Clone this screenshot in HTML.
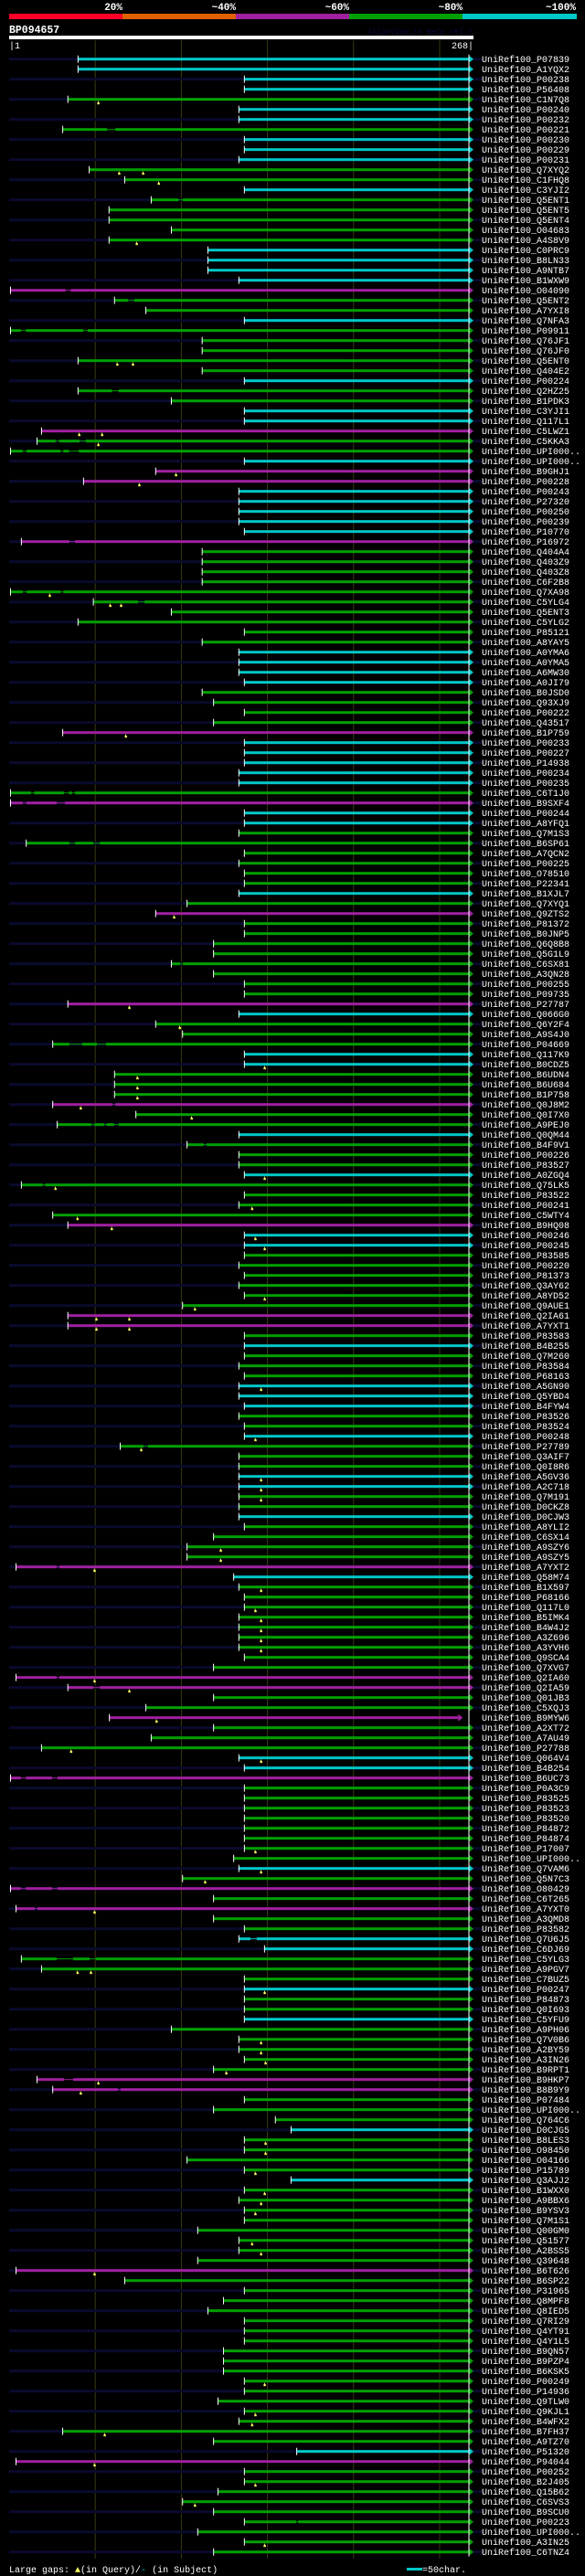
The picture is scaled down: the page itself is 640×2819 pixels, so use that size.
<!DOCTYPE html>
<html><head><meta charset="utf-8"><style>
html,body{margin:0;padding:0;background:#000;}
svg{display:block;}
text{font-family:"Liberation Mono",monospace;}
</style></head><body>
<svg id="chart" width="640" height="2819" xmlns="http://www.w3.org/2000/svg">
<rect x="0" y="0" width="640" height="2819" fill="#000"/>
<g>
<rect x="10" y="15" width="124" height="6" fill="#ff0028"/>
<rect x="134" y="15" width="124" height="6" fill="#e06000"/>
<rect x="258" y="15" width="124" height="6" fill="#a020a0"/>
<rect x="382" y="15" width="124" height="6" fill="#00a000"/>
<rect x="506" y="15" width="125" height="6" fill="#00c8c8"/>
<text x="134" y="11" text-anchor="end" font-size="11" font-weight="bold" fill="#fff">20%</text>
<text x="258" y="11" text-anchor="end" font-size="11" font-weight="bold" fill="#fff">~40%</text>
<text x="382" y="11" text-anchor="end" font-size="11" font-weight="bold" fill="#fff">~60%</text>
<text x="506" y="11" text-anchor="end" font-size="11" font-weight="bold" fill="#fff">~80%</text>
<text x="630" y="11" text-anchor="end" font-size="11" font-weight="bold" fill="#fff">~100%</text>
</g>
<text x="10" y="36" font-size="11.5" font-weight="bold" fill="#fff">BP094657</text>
<text x="402" y="37" font-size="8.3" fill="#0a0a40">AlignView.rn Beta rel.7</text>
<rect x="10" y="39" width="508" height="4" fill="#fff"/>
<text x="10" y="53" font-size="10" fill="#fff">|1</text>
<text x="518" y="53" font-size="10" text-anchor="end" fill="#fff">268|</text>
<g id="grid"></g>
<g id="rows"></g>
<g>
<text x="10" y="2815" font-size="10" fill="#fff">Large gaps: <tspan fill="#ffff60">▲</tspan>(in Query)/<tspan fill="#00c8c8">-</tspan> (in Subject)</text>
<rect x="445" y="2810" width="17" height="3" fill="#00c8c8"/>
<text x="462" y="2815" font-size="10" fill="#fff">=50char.</text>
</g>
</svg>
<script>
const names = ["P07839","A1YQX2","P00238","P56408","C1N7Q8","P00240","P00232","P00221","P00230","P00229","P00231","Q7XYQ2","C1FHQ8","C3YJI2","Q5ENT1","Q5ENT5","Q5ENT4","O04683","A4S8V9","C0PRC9","B8LN33","A9NTB7","B1WXW9","O04090","Q5ENT2","A7YXI8","Q7NFA3","P09911","Q76JF1","Q76JF0","Q5ENT0",
"Q404E2","P00224","Q2HZ25","B1PDK3","C3YJI1","Q117L1","C5LWZ1","C5KKA3","UPI000..","UPI000..","B9GHJ1","P00228","P00243","P27320","P00250","P00239","P10770","P16972","Q404A4","Q403Z9","Q403Z8","C6F2B8","Q7XA98","C5YLG4","Q5ENT3","C5YLG2","P85121","A8YAY5","A0YMA6","A0YMA5","A6MW30",
"A0JI79","B0JSD0","Q93XJ9","P00222","Q43517","B1P759","P00233","P00227","P14938","P00234","P00235","C6T1J0","B9SXF4","P00244","A8YFQ1","Q7M1S3","B6SP61","A7QCN2","P00225","O78510","P22341","B1XJL7","Q7XYQ1","Q9ZTS2","P81372","B0JNP5","Q6Q8B8","Q5G1L9","C6SX81","A3QN28","P00255",
"P09735","P27787","Q066G0","Q6Y2F4","A9S4J0","P04669","Q117K9","B0CDZ5","B6UDN4","B6U684","B1P758","Q0J8M2","Q0I7X0","A9PEJ0","Q0QM44","B4F9V1","P00226","P83527","A0ZGQ4","Q75LK5","P83522","P00241","C5WTY4","B9HQ08","P00246","P00245","P83585","P00220","P81373","Q3AY62","A8YD52",
"Q9AUE1","Q2IA61","A7YXT1","P83583","B4B255","Q7M260","P83584","P68163","A5GN90","Q5YBD4","B4FYW4","P83526","P83524","P00248","P27789","Q3AIF7","Q0I8R6","A5GV36","A2C718","Q7M191","D0CKZ8","D0CJW3","A8YLI2","C6SX14","A9SZY6","A9SZY5","A7YXT2","Q58M74","B1X597","P68166","Q117L0","B5IMK4",
"B4W4J2","A3Z696","A3YVH6","Q9SCA4","Q7XVG7","Q2IA60","Q2IA59","Q01JB3","C5XQJ3","B9MYW6","A2XT72","A7AU49","P27788","Q064V4","B4B254","B6UC73","P0A3C9","P83525","P83523","P83520","P84872","P84874","P17007","UPI000..","Q7VAM6","Q5N7C3","O80429","C6T265","A7YXT0","A3QMD8","P83582",
"Q7U6J5","C6DJ69","C5YLG3","A9PGV7","C7BUZ5","P00247","P84873","Q0I693","C5YFU9","A9PH06","Q7V0B6","A2BY59","A3IN26","B9RPT1","B9HKP7","B8B9Y9","P07484","UPI000..","Q764C6","D0CJG5","B8LES3","O98450","O04166","P15789","Q3AJJ2","B1WXX0","A9BBX6","B9YSV3","Q7M1S1","Q00GM0","Q51577",
"A2BSS5","Q39648","B6T626","B6SP22","P31965","Q8MPF8","Q8IED5","Q7RI29","Q4YT91","Q4Y1L5","B9QN57","B9PZP4","B6KSK5","P00249","P14936","Q9TLW0","Q9KJL1","B4WFX2","B7FH37","A9TZ70","P51320","P94044","P00252","B2J405","Q15B62","C6SVS3","B9SCU0","P00223","UPI000..","A3IN25","C6TNZ4"];
const starts = [40,40,136.6,136.6,34.1,133.4,133.4,31.1,136.6,136.6,133.4,46.5,67.1,136.6,82.5,58,58,94.2,58,115.4,115.4,115.4,133.4,0.8,61.2,79.4,136.6,0.8,112.1,112.1,40,
112.1,136.6,40,94.2,136.6,136.6,18.8,16.2,0.8,136.6,85.1,43.2,133.4,133.4,133.4,133.4,136.6,7.1,112.1,112.1,112.1,112.1,0.8,48.9,94.2,40,136.6,112.1,133.4,133.4,133.4,
136.6,112.1,118.7,136.6,118.7,31.1,136.6,136.6,136.6,133.4,133.4,0.8,0.8,136.6,136.6,133.4,9.9,136.6,133.4,136.6,136.6,133.4,103.3,85.1,136.6,136.6,118.7,118.7,94.2,118.7,136.6,
136.6,34.1,133.4,85.1,100.7,25.3,136.6,136.6,61.2,61.2,61.2,25.3,73.6,27.9,133.4,103.3,133.4,133.4,136.6,7.1,136.6,133.4,25.3,34.1,136.6,136.6,136.6,133.4,136.6,133.4,136.6,
100.7,34.1,34.1,136.6,136.6,136.6,133.4,136.6,133.4,133.4,136.6,133.4,136.6,136.6,64.5,133.4,133.4,133.4,133.4,133.4,133.4,133.4,136.6,118.7,103.3,103.3,4,130.4,133.4,136.6,136.6,133.4,
133.4,133.4,133.4,136.6,118.7,4,34.1,118.7,79.4,58.2,118.7,82.5,18.8,133.4,136.6,0.8,136.6,136.6,136.6,136.6,136.6,136.6,136.6,130.4,133.4,100.7,0.8,118.7,4,118.7,136.6,
133.4,148.3,7.1,18.8,136.6,136.6,136.6,136.6,136.6,94.2,133.4,133.4,136.6,118.7,16.2,25.3,136.6,118.7,154.6,163.7,136.6,136.6,103.3,136.6,163.7,136.6,133.4,136.6,136.6,109.5,133.4,
133.4,109.5,4,67.1,136.6,124.5,115.4,136.6,136.6,136.6,124.5,124.5,124.5,136.6,136.6,121.3,136.6,133.4,31.1,118.7,167,4,136.6,136.6,121.3,100.7,118.7,136.6,109.5,136.6,118.7];
const kinds = ("ccccgccgcccggcggggg"+"cccc"+"m"+"gg"+"c"+"gggg"+
"gcggccmggcmmcccccmggggggggggccc"+
"cggggmccccc"+"gm"+"cc"+"gggggg"+"c"+"g"+"m"+"ggggggg"+
"gmcggg"+"cc"+"ggg"+"m"+"gg"+"c"+"ggg"+"c"+"gggg"+"m"+"cc"+"gggggg"+
"mmgcggg"+"ccc"+"gg"+"c"+"ggg"+"cc"+"gg"+"c"+"gggg"+"m"+"c"+"gggg"+
"ggggg"+"mm"+"gg"+"m"+"ggg"+"cc"+"m"+"gggggggg"+"c"+"g"+"m"+"g"+"m"+"gg"+
"ccggg"+"c"+"gg"+"c"+"ggggg"+"mm"+"ggg"+"c"+"gggg"+"c"+"gggggg"+
"gg"+"m"+"ggggggggggggggggg"+"c"+"m"+"ggggggggg").split("");
const ends = {165:260.8};
const queryGaps = {4:[51.7],11:[63.8,77.7],12:[86.8],18:[74],30:[62.7,71.8],37:[40.6,53.9],38:[51.7],41:[96.8],42:[75.5],53:[23.5],54:[58.6,64.9],67:[67.7],85:[95.7],94:[69.7],96:[99],100:[148.3],101:[74.4],102:[74.4],103:[74.4],104:[41.5],105:[105.9],111:[148.3],112:[26.8],114:[141],115:[39.6],116:[59.5],117:[142.9],118:[148.3],123:[148.3],124:[107.8],125:[50.6,69.7],126:[50.6,69.7],132:[146.2],137:[142.9],138:[76.6],141:[146.2],142:[146.2],143:[146.2],148:[122.8],149:[122.8],150:[49.5],152:[146.2],154:[142.9],155:[146.2],156:[146.2],157:[146.2],158:[146.2],161:[49.5],162:[69.7],165:[85.5],168:[35.9],169:[146.2],178:[142.9],180:[146.2],181:[113.7],184:[49.5],190:[39.6,47.4],192:[148.3],197:[146.2],198:[146.2],199:[148.8],200:[126],201:[51.7],202:[41.5],207:[148.8],208:[148.8],210:[142.9],212:[148.3],213:[146.2],214:[142.9],217:[141],218:[146.2],220:[49.5],231:[148.3],234:[142.9],235:[141],236:[55.4],239:[49.5],241:[142.9],243:[107.8],247:[148.3]};
const subjectGaps = {7:[[56.9,61.7]],14:[[98.3,100.9]],23:[[32.8,35.7]],24:[[69,72.7]],27:[[6.8,9.7],[43,45.6]],33:[[59.7,63.6]],38:[[27,29.2],[40.9,44.5]],39:[[7.9,10.1],[29.8,31.5],[34.8,40.4]],48:[[35,38.3]],53:[[7.9,10.1],[29.8,31.5]],54:[[74.9,78.6]],73:[[12.7,14.4],[31.8,34.6],[36.5,38.3]],74:[[7.9,10.1],[27.6,32.4]],78:[[35,38.3],[48.9,52.6]],90:[[99.4,100.9]],98:[[35,42.4],[51,56.2]],104:[[59.9,61.7]],106:[[47.8,49.5],[55.2,56.5],[61,63.6]],108:[[113,114.7]],112:[[19.6,20.9]],138:[[78.1,80.7]],150:[[27.6,29.2]],161:[[27.6,29.2]],162:[[48.9,52.6]],171:[[6.8,9.7],[25,28.1]],182:[[6.8,9.7],[25,28.1]],184:[[14.9,16.4]],187:[[140.1,143.8]],189:[[27.6,37.2],[46.7,50.4]],201:[[31.8,37.2]],202:[[63.2,64.7]],245:[[166.8,167.8]]};
const gridTicks = [50,100,150,200,250];
const QUERY_END = 267;

const NS = "http://www.w3.org/2000/svg";
const COLORS = {c:"#00c8c8", g:"#00a000", m:"#a020a0"};
function xScale(p){ return 10 + p * (503/267); }
function yRow(i){ return 64.7 + i * 11; }
function mk(tag, attrs, parent){ const e = document.createElementNS(NS, tag); for (const k in attrs) e.setAttribute(k, attrs[k]); parent.appendChild(e); return e; }

const grid = document.getElementById("grid");
gridTicks.forEach(t => {
  const l = mk("line", {x1:xScale(t), x2:xScale(t), y1:44, y2:2800, stroke:"#3a3a12", "stroke-width":1}, grid);
  
  
});

const rowsG = document.getElementById("rows");
names.forEach((nm, i) => {
  const cy = yRow(i);
  const col = COLORS[kinds[i]] || COLORS.g;
  const g = mk("g", {}, rowsG);
  
  
  if (i % 2 === 0) {
    const bg = mk("rect", {x:10, y:cy-1.5, width:517, height:3, fill:"#0a0a2e"}, g);
    
    
  }
  const s = starts[i], e = ends[i] !== undefined ? ends[i] : QUERY_END;
  const gaps = subjectGaps[i] || [];
  let segStart = s;
  const segs = [];
  gaps.forEach(gp => { segs.push([segStart, gp[0]]); segStart = gp[1]; });
  segs.push([segStart, e]);
  segs.forEach(sg => {
    const r = mk("rect", {x:xScale(sg[0]), y:cy-1.5, width:Math.max(0, xScale(sg[1])-xScale(sg[0])), height:3, fill:col}, g);
    
    
  });
  gaps.forEach(gp => {
    const l = mk("rect", {x:xScale(gp[0]), y:cy-0.5, width:xScale(gp[1])-xScale(gp[0]), height:1, fill:col}, g);
    
    
  });
  const tick = mk("rect", {x:xScale(s)-0.5, y:cy-4, width:1, height:8, fill:"#fff"}, g);
  
  
  const ax = xScale(e);
  const arrow = mk("polygon", {points:`${ax},${cy-4} ${ax+5},${cy} ${ax},${cy+4}`, fill:col}, g);
  
  
  (queryGaps[i] || []).forEach(q => {
    const qx = xScale(q);
    const m1 = mk("rect", {x:qx-0.5, y:cy+2, width:1, height:2, fill:"#ffff80"}, g);
    
    
    const m2 = mk("rect", {x:qx-1, y:cy+3.5, width:2.5, height:2, fill:"#ffff60"}, g);
    
    
  });
  const t = mk("text", {x:527, y:cy+3.5, "font-size":10, fill:"#fff"}, g);
  
  
  t.textContent = "UniRef100_" + nm;
});
const vline = mk("rect", {x:xScale(QUERY_END)-0.5, y:yRow(0)-5, width:1, height:yRow(names.length-1)-yRow(0)+10, fill:"#fff"}, rowsG);


</script>
</body></html>
